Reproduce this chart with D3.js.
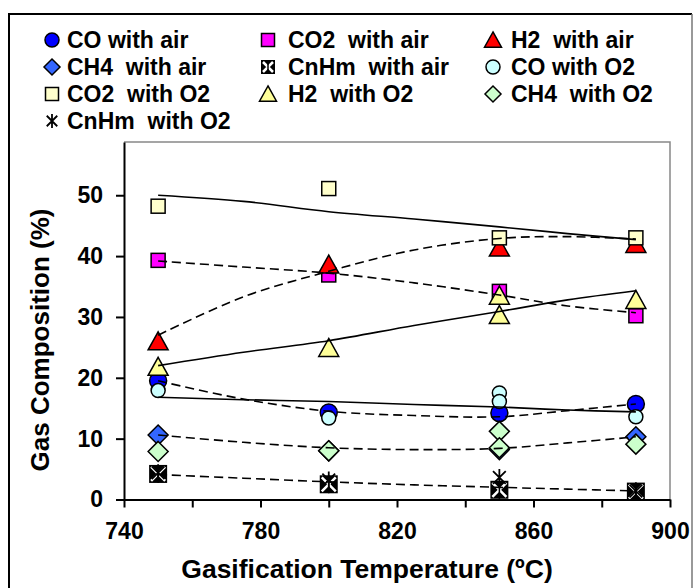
<!DOCTYPE html>
<html>
<head>
<meta charset="utf-8">
<script src="https://cdn.jsdelivr.net/npm/d3@7"></script>
<style>
  body { margin: 0; background: #fff; }
  text { font-family: "Liberation Sans", Arial, sans-serif; font-weight: bold; fill: #000; }
</style>
</head>
<body>
<script>
var width = 694
var height = 588

// measured points (temperature, % gas)
var coAirT = [750, 800, 850, 890]
var coAirV = [19.5, 14.3, 14.2, 15.7]
var co2AirT = [750, 800, 850, 890]
var co2AirV = [39.3, 36.9, 34.2, 30.2]
var h2AirT = [750, 800, 850, 890]
var h2AirV = [26.0, 38.6, 41.4, 42.0]
var ch4AirT = [750, 800, 850, 890]
var ch4AirV = [10.6, 8.0, 8.2, 10.3]
var cnhmAirT = [750, 800, 850, 890]
var cnhmAirV = [4.2, 2.5, 1.6, 1.3]
var coO2T = [750, 800, 850, 850, 890]
var coO2V = [17.9, 13.4, 17.5, 16.1, 13.6]
var co2O2T = [750, 800, 850, 890]
var co2O2V = [48.2, 51.1, 43.0, 43.0]
var h2O2T = [750, 800, 850, 850, 890]
var h2O2V = [21.8, 24.9, 33.5, 30.3, 32.8]
var ch4O2T = [750, 800, 850, 850, 890]
var ch4O2V = [7.9, 8.0, 11.2, 8.5, 9.1]
var cnhmO2T = [750, 800, 850, 890]
var cnhmO2V = [4.4, 3.2, 3.6, 1.4]

// trend lines
var trendT = [750, 775, 800, 825, 850, 870, 890]
var co2O2Trend = [50.0, 49.0, 47.3, 46.1, 44.8, 43.7, 42.7]
var h2O2Trend = [22.0, 24.2, 26.1, 28.6, 30.9, 32.8, 34.3]
var coO2Trend = [16.8, 16.4, 16.1, 15.6, 15.2, 14.7, 14.4]
var co2AirTrend = [39.2, 38.2, 37.2, 35.6, 33.6, 31.8, 30.7]
var h2AirTrend = [27.0, 33.3, 37.5, 41.0, 42.9, 43.2, 42.8]
var coAirTrend = [19.5, 16.5, 14.5, 13.8, 13.6, 14.6, 15.7]
var ch4AirTrend = [10.6, 9.4, 8.5, 8.2, 8.4, 9.3, 10.3]
var cnhmAirTrend = [4.1, 3.5, 2.9, 2.4, 2.0, 1.7, 1.4]

var xTicks = [740, 760, 780, 800, 820, 840, 860, 880, 900]
var yTicks = [0, 10, 20, 30, 40, 50]

var series = [
  {name: "CO with air", t: coAirT, v: coAirV, shape: "circle", fill: "#0000FF", size: 8.5},
  {name: "CO2  with air", t: co2AirT, v: co2AirV, shape: "square", fill: "#FF00FF", size: 7},
  {name: "H2  with air", t: h2AirT, v: h2AirV, shape: "triangle", fill: "#FF0000", size: 10},
  {name: "CH4  with air", t: ch4AirT, v: ch4AirV, shape: "diamond", fill: "#3366FF", size: 10},
  {name: "CnHm  with air", t: cnhmAirT, v: cnhmAirV, shape: "xsquare", fill: "#000", size: 9},
  {name: "CO with O2", t: coO2T, v: coO2V, shape: "circle", fill: "#CCFFFF", size: 7},
  {name: "CO2  with O2", t: co2O2T, v: co2O2V, shape: "square", fill: "#FFFFCC", size: 7},
  {name: "H2  with O2", t: h2O2T, v: h2O2V, shape: "triangle", fill: "#FFFF99", size: 10},
  {name: "CH4  with O2", t: ch4O2T, v: ch4O2V, shape: "diamond", fill: "#CCFFCC", size: 10},
  {name: "CnHm  with O2", t: cnhmO2T, v: cnhmO2V, shape: "star", fill: "none", size: 8.5}
]

var trends = [
  {v: co2O2Trend, dash: null},
  {v: h2O2Trend, dash: null},
  {v: coO2Trend, dash: null},
  {v: co2AirTrend, dash: "9,5"},
  {v: h2AirTrend, dash: "9,5"},
  {v: coAirTrend, dash: "9,5"},
  {v: ch4AirTrend, dash: "9,5"},
  {v: cnhmAirTrend, dash: "9,5"}
]

var svg = d3.select("body").append("svg")
  .attr("width", width)
  .attr("height", height)

svg.append("rect").attr("width", width).attr("height", height).attr("fill", "#fff")

// outer frame
svg.append("path").attr("d", "M9,600V14H692").attr("fill", "none").attr("stroke", "#000").attr("stroke-width", 2)
svg.append("path").attr("d", "M692,14V600").attr("fill", "none").attr("stroke", "#777").attr("stroke-width", 1.5)

var x = d3.scaleLinear().domain([740, 900]).range([124, 670])
var y = d3.scaleLinear().domain([0, 58.75]).range([499.5, 142])

// plot area border (top / right)
svg.append("path")
  .attr("d", "M124," + y(58.75) + "H670V" + y(0))
  .attr("fill", "none").attr("stroke", "#888").attr("stroke-width", 1.5)

function drawMarker(g, shape, s, fill) {
  if (shape === "circle") {
    g.append("circle").attr("r", s).attr("fill", fill).attr("stroke", "#000").attr("stroke-width", 1.5)
  } else if (shape === "square") {
    g.append("rect").attr("x", -s).attr("y", -s).attr("width", 2 * s).attr("height", 2 * s)
      .attr("fill", fill).attr("stroke", "#000").attr("stroke-width", 1.5)
  } else if (shape === "triangle") {
    g.append("path").attr("d", "M0," + (-s * 0.95) + "L" + s + "," + (s * 0.85) + "L" + (-s) + "," + (s * 0.85) + "Z")
      .attr("fill", fill).attr("stroke", "#000").attr("stroke-width", 1.5)
  } else if (shape === "diamond") {
    g.append("path").attr("d", "M0," + (-s) + "L" + s + ",0L0," + s + "L" + (-s) + ",0Z")
      .attr("fill", fill).attr("stroke", "#000").attr("stroke-width", 1.5)
  } else if (shape === "xsquare") {
    g.append("rect").attr("x", -s).attr("y", -s).attr("width", 2 * s).attr("height", 2 * s).attr("fill", "#000")
    g.append("path").attr("d", "M" + (-s + 2) + "," + (-s + 2) + "L" + (s - 2) + "," + (s - 2) + "M" + (s - 2) + "," + (-s + 2) + "L" + (-s + 2) + "," + (s - 2))
      .attr("stroke", "#fff").attr("stroke-width", 2.5)
    g.append("path").attr("d", "M0," + (-s) + "V" + s).attr("stroke", "#000").attr("stroke-width", 1.5)
  } else if (shape === "star") {
    var a = s * 0.75
    g.append("path").attr("d", "M" + (-a) + "," + (-a) + "L" + a + "," + a + "M" + a + "," + (-a) + "L" + (-a) + "," + a + "M0," + (-s) + "V" + s)
      .attr("fill", "none").attr("stroke", "#000").attr("stroke-width", 1.8)
  }
}

// markers
series.forEach(function (sr) {
  sr.t.forEach(function (t, i) {
    var g = svg.append("g").attr("transform", "translate(" + x(t) + "," + y(sr.v[i]) + ")")
    drawMarker(g, sr.shape, sr.size, sr.fill)
  })
})

// trend lines on top of markers
var line = d3.line()
  .x(function (d, i) { return x(trendT[i]) })
  .y(function (d) { return y(d) })
  .curve(d3.curveCatmullRom)

trends.forEach(function (tr) {
  svg.append("path")
    .attr("d", line(tr.v))
    .attr("fill", "none")
    .attr("stroke", "#000")
    .attr("stroke-width", 1.6)
    .attr("stroke-dasharray", tr.dash)
})

// axes
svg.append("g")
  .attr("transform", "translate(0," + y(0) + ")")
  .call(d3.axisBottom(x).tickValues(xTicks).tickSize(8).tickSizeOuter(0).tickPadding(15)
    .tickFormat(function (d) { return (d - 740) % 40 === 0 ? d : "" }))

svg.append("g")
  .attr("transform", "translate(124,0)")
  .call(d3.axisLeft(y).tickValues(yTicks).tickSize(8).tickSizeOuter(0).tickPadding(13))

svg.selectAll(".domain, .tick line").attr("stroke", "#000").attr("stroke-width", 2)
svg.selectAll(".tick text")
  .style("font-family", "'Liberation Sans', Arial, sans-serif")
  .style("font-weight", "bold")
  .style("font-size", "23px")
  .attr("fill", "#000")

// axis titles
svg.append("text")
  .attr("x", 367).attr("y", 578)
  .attr("text-anchor", "middle")
  .style("font-size", "26.5px")
  .text("Gasification Temperature (ºC)")

svg.append("text")
  .attr("transform", "translate(49,340) rotate(-90)")
  .attr("text-anchor", "middle")
  .style("font-size", "26px")
  .text("Gas Composition (%)")

// legend
var colMarkX = [52, 268, 493]
var colTextX = [67, 288, 511]
var rowY = [40, 67, 94, 121]
var legendSize = {circle: 7, square: 6.5, triangle: 8.5, diamond: 8, xsquare: 7, star: 7}

series.forEach(function (sr, i) {
  var c = i % 3
  var r = Math.floor(i / 3)
  var g = svg.append("g").attr("transform", "translate(" + colMarkX[c] + "," + rowY[r] + ")")
  drawMarker(g, sr.shape, legendSize[sr.shape], sr.fill)
  svg.append("text")
    .attr("x", colTextX[c]).attr("y", rowY[r] + 8)
    .attr("xml:space", "preserve")
    .style("white-space", "pre")
    .style("font-size", "23px")
    .text(sr.name)
})
</script>
</body>
</html>
